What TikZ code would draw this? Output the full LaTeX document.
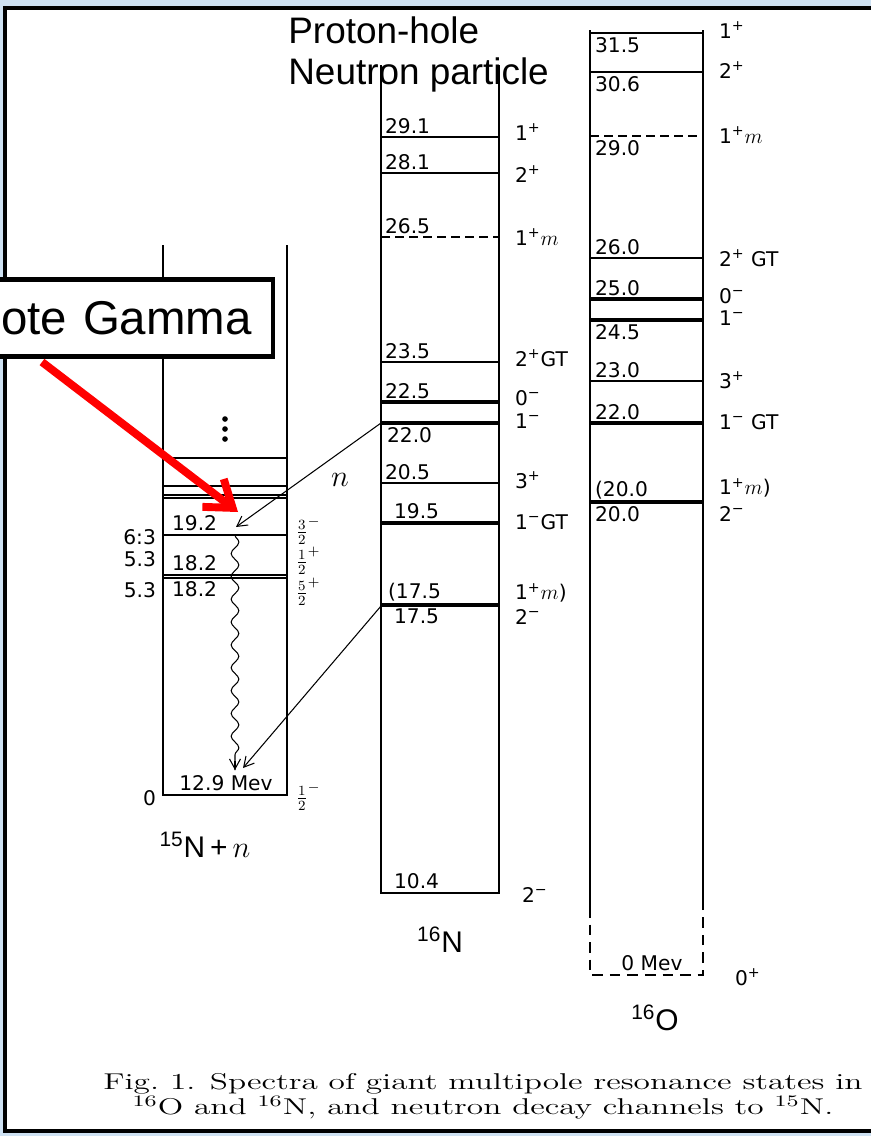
\documentclass[tikz,border=0pt]{standalone}
\usepackage{fontspec}
\setsansfont{Liberation Sans}
\newfontfamily\lblfont{DejaVu Sans}
\usetikzlibrary{arrows.meta, positioning, decorations.pathmorphing}
\definecolor{bgblue}{RGB}{206,225,242}
\newcommand{\spinp}{\textsuperscript{+}}
\newcommand{\spinm}{\textsuperscript{\textminus}}

\begin{document}
\begin{tikzpicture}[
x=0.02cm, y=-0.02cm,
col/.style={line width=1.1pt},
lvl/.style={line width=0.7pt},
lvlthick/.style={line width=2pt},
lvldash/.style={line width=0.7pt, dash pattern=on 5pt off 3pt},
num/.style={font=\lblfont\fontsize{11.5}{11.5}\selectfont, inner sep=1pt},
spin/.style={font=\lblfont\fontsize{11.5}{11.5}\selectfont, anchor=west, inner sep=1pt},
nucl/.style={font=\sffamily\fontsize{17}{17}\selectfont},
toplbl/.style={font=\sffamily\fontsize{21}{21}\selectfont, anchor=west, inner sep=0pt},
callout/.style={draw, line width=2.5pt, fill=white, font=\sffamily\fontsize{27}{27}\selectfont,
  minimum height=44pt, text width=170pt, align=right, inner xsep=12pt},
arrow/.style={-{Straight Barb[length=2mm, width=2.2mm]}, line width=0.6pt},
redarrow/.style={red, line width=4.5pt, -{Straight Barb[length=14pt, width=20pt]}},
wavy/.style={decorate, decoration={snake, amplitude=2.2pt, segment length=13pt, post length=5pt}},
caption/.style={align=center, font=\fontsize{13}{12}\selectfont, xscale=1.46, transform shape}
]
\useasboundingbox (0,0) rectangle (871,1136);
\fill[bgblue] (0,0) rectangle (871,1136);
\draw[line width=2.8pt, fill=white] (5,8) rectangle (900,1131);

% 15N + n
\draw[col] (163,245) -- (163,795) -- (287,795) -- (287,245);
\foreach \y in {458,486,495,498,535,575,578}
  \draw[lvl] (163,\y) -- (287,\y);
\foreach \y in {419,429,439}
  \fill (225,\y) circle (1.6pt);
\node[num, anchor=south west] (f192) at (170,533) {19.2};
\node[num, anchor=south west] (f182a) at (170,573) {18.2};
\node[num, anchor=north west] (f182b) at (170,579) {18.2};
\node[num, anchor=south] (f129) at (226,793) {12.9 Mev};
\node[num, anchor=east] (e63) at (158,537) {6:3};
\node[num, anchor=east] (e53a) at (158,559) {5.3};
\node[num, anchor=east] (e53b) at (158,590) {5.3};
\node[num, anchor=east] (e0) at (158,798) {0};
\node[spin] (j32) at (294,531) {$\frac{3}{2}^{-}$};
\node[spin] (j12a) at (294,561) {$\frac{1}{2}^{+}$};
\node[spin] (j52) at (294,592) {$\frac{5}{2}^{+}$};
\node[spin] (j12b) at (294,797) {$\frac{1}{2}^{-}$};
\node[nucl] (n15) at (205,845) {\textsuperscript{15}N\,+\,$n$};

% 16N
\draw[col] (381,65) -- (381,893) -- (499,893) -- (499,65);
\foreach \y/\s in {137/lvl,173/lvl,237/lvldash,362/lvl,402/lvlthick,423/lvlthick,483/lvl,523/lvlthick,605/lvlthick}
  \draw[\s] (381,\y) -- (499,\y);
\foreach \y/\t [count=\i] in {137/29.1,173/28.1,237/26.5,362/23.5,402/22.5,483/20.5}
  \node[num, anchor=south west] (na\i) at (383,\y-1) {\t};
\node[num, anchor=north west] (nb1) at (385,425) {22.0};
\node[num, anchor=south west] (na7) at (392,521) {19.5};
\node[num, anchor=south west] (na8) at (386,603) {(17.5};
\node[num, anchor=north west] (nb2) at (392,607) {17.5};
\node[num, anchor=south west] (na9) at (392,891) {10.4};
\node[spin] (ns1) at (513,132) {1\spinp};
\node[spin] (ns2) at (513,174) {2\spinp};
\node[spin] (ns3) at (513,237) {1\spinp$m$};
\node[spin] (ns4) at (513,358) {2\spinp GT};
\node[spin] (ns5) at (513,398) {0\spinm};
\node[spin] (ns6) at (513,421) {1\spinm};
\node[spin] (ns7) at (513,480) {3\spinp};
\node[spin] (ns8) at (513,522) {1\spinm GT};
\node[spin] (ns9) at (513,593) {1\spinp$m$)};
\node[spin] (ns10) at (513,617) {2\spinm};
\node[spin] (ns11) at (520,895) {2\spinm};
\node[nucl] (n16) at (440,940) {\textsuperscript{16}N};

% 16O
\draw[col] (590,907) -- (590,30) (703,30) -- (703,907);
\draw[col, dash pattern=on 6pt off 4pt] (590,907) -- (590,975) -- (703,975) -- (703,907);
\foreach \y/\s in {33/lvl,72/lvl,136/lvldash,258/lvl,299/lvlthick,320/lvlthick,381/lvl,423/lvlthick,502/lvlthick}
  \draw[\s] (590,\y) -- (703,\y);
\foreach \y/\t [count=\i] in {35/31.5,74/30.6,138/29.0,322/24.5,504/20.0}
  \node[num, anchor=north west] (ob\i) at (593,\y) {\t};
\foreach \y/\t [count=\i] in {257/26.0,298/25.0,380/23.0,422/22.0,501/(20.0}
  \node[num, anchor=south west] (oa\i) at (593,\y) {\t};
\node[num, anchor=south] (o0) at (652,973) {0 Mev};
\node[spin] (os1) at (717,30) {1\spinp};
\node[spin] (os2) at (717,70) {2\spinp};
\node[spin] (os3) at (717,135) {1\spinp$m$};
\node[spin] (os4) at (717,258) {2\spinp\ GT};
\node[spin] (os5) at (717,296) {0\spinm};
\node[spin] (os6) at (717,318) {1\spinm};
\node[spin] (os7) at (717,380) {3\spinp};
\node[spin] (os8) at (717,422) {1\spinm\ GT};
\node[spin] (os9) at (717,488) {1\spinp$m$)};
\node[spin] (os10) at (717,514) {2\spinm};
\node[spin] (os11) at (733,977) {0\spinp};
\node[nucl] (o16) at (655,1018) {\textsuperscript{16}O};

% decay channels
\coordinate (src22) at (381,423);
\coordinate (src175) at (381,606);
\coordinate (dst192) at (236,527);
\coordinate (dst0) at (243,768);
\coordinate (gtop) at (235,535);
\coordinate (gbot) at (235,770);
\draw[arrow] (src22) -- (dst192);
\draw[arrow] (src175) -- (dst0);
\draw[wavy, line width=0.6pt] (gtop) -- (gbot);
\draw[arrow] ([yshift=5pt]gbot) -- (gbot);
\node[font=\fontsize{17}{17}\selectfont] (nlbl) at (340,480) {$n$};

\node[toplbl] (ph) at (288,30) {Proton-hole};
\node[toplbl] (np) at (288,75) {Neutron particle};

% remark
\node[callout, anchor=east] (note) at (275,318) {ote Gamma};
\coordinate (gtail) at (42,362);
\coordinate (ghead) at (238,512);
\draw[redarrow] (gtail) -- (ghead);

\node[caption] (cap) at (483,1096) {Fig.~1. Spectra of giant multipole resonance states in\\
\textsuperscript{16}O and \textsuperscript{16}N, and neutron decay channels to \textsuperscript{15}N.};
\end{tikzpicture}
\end{document}
